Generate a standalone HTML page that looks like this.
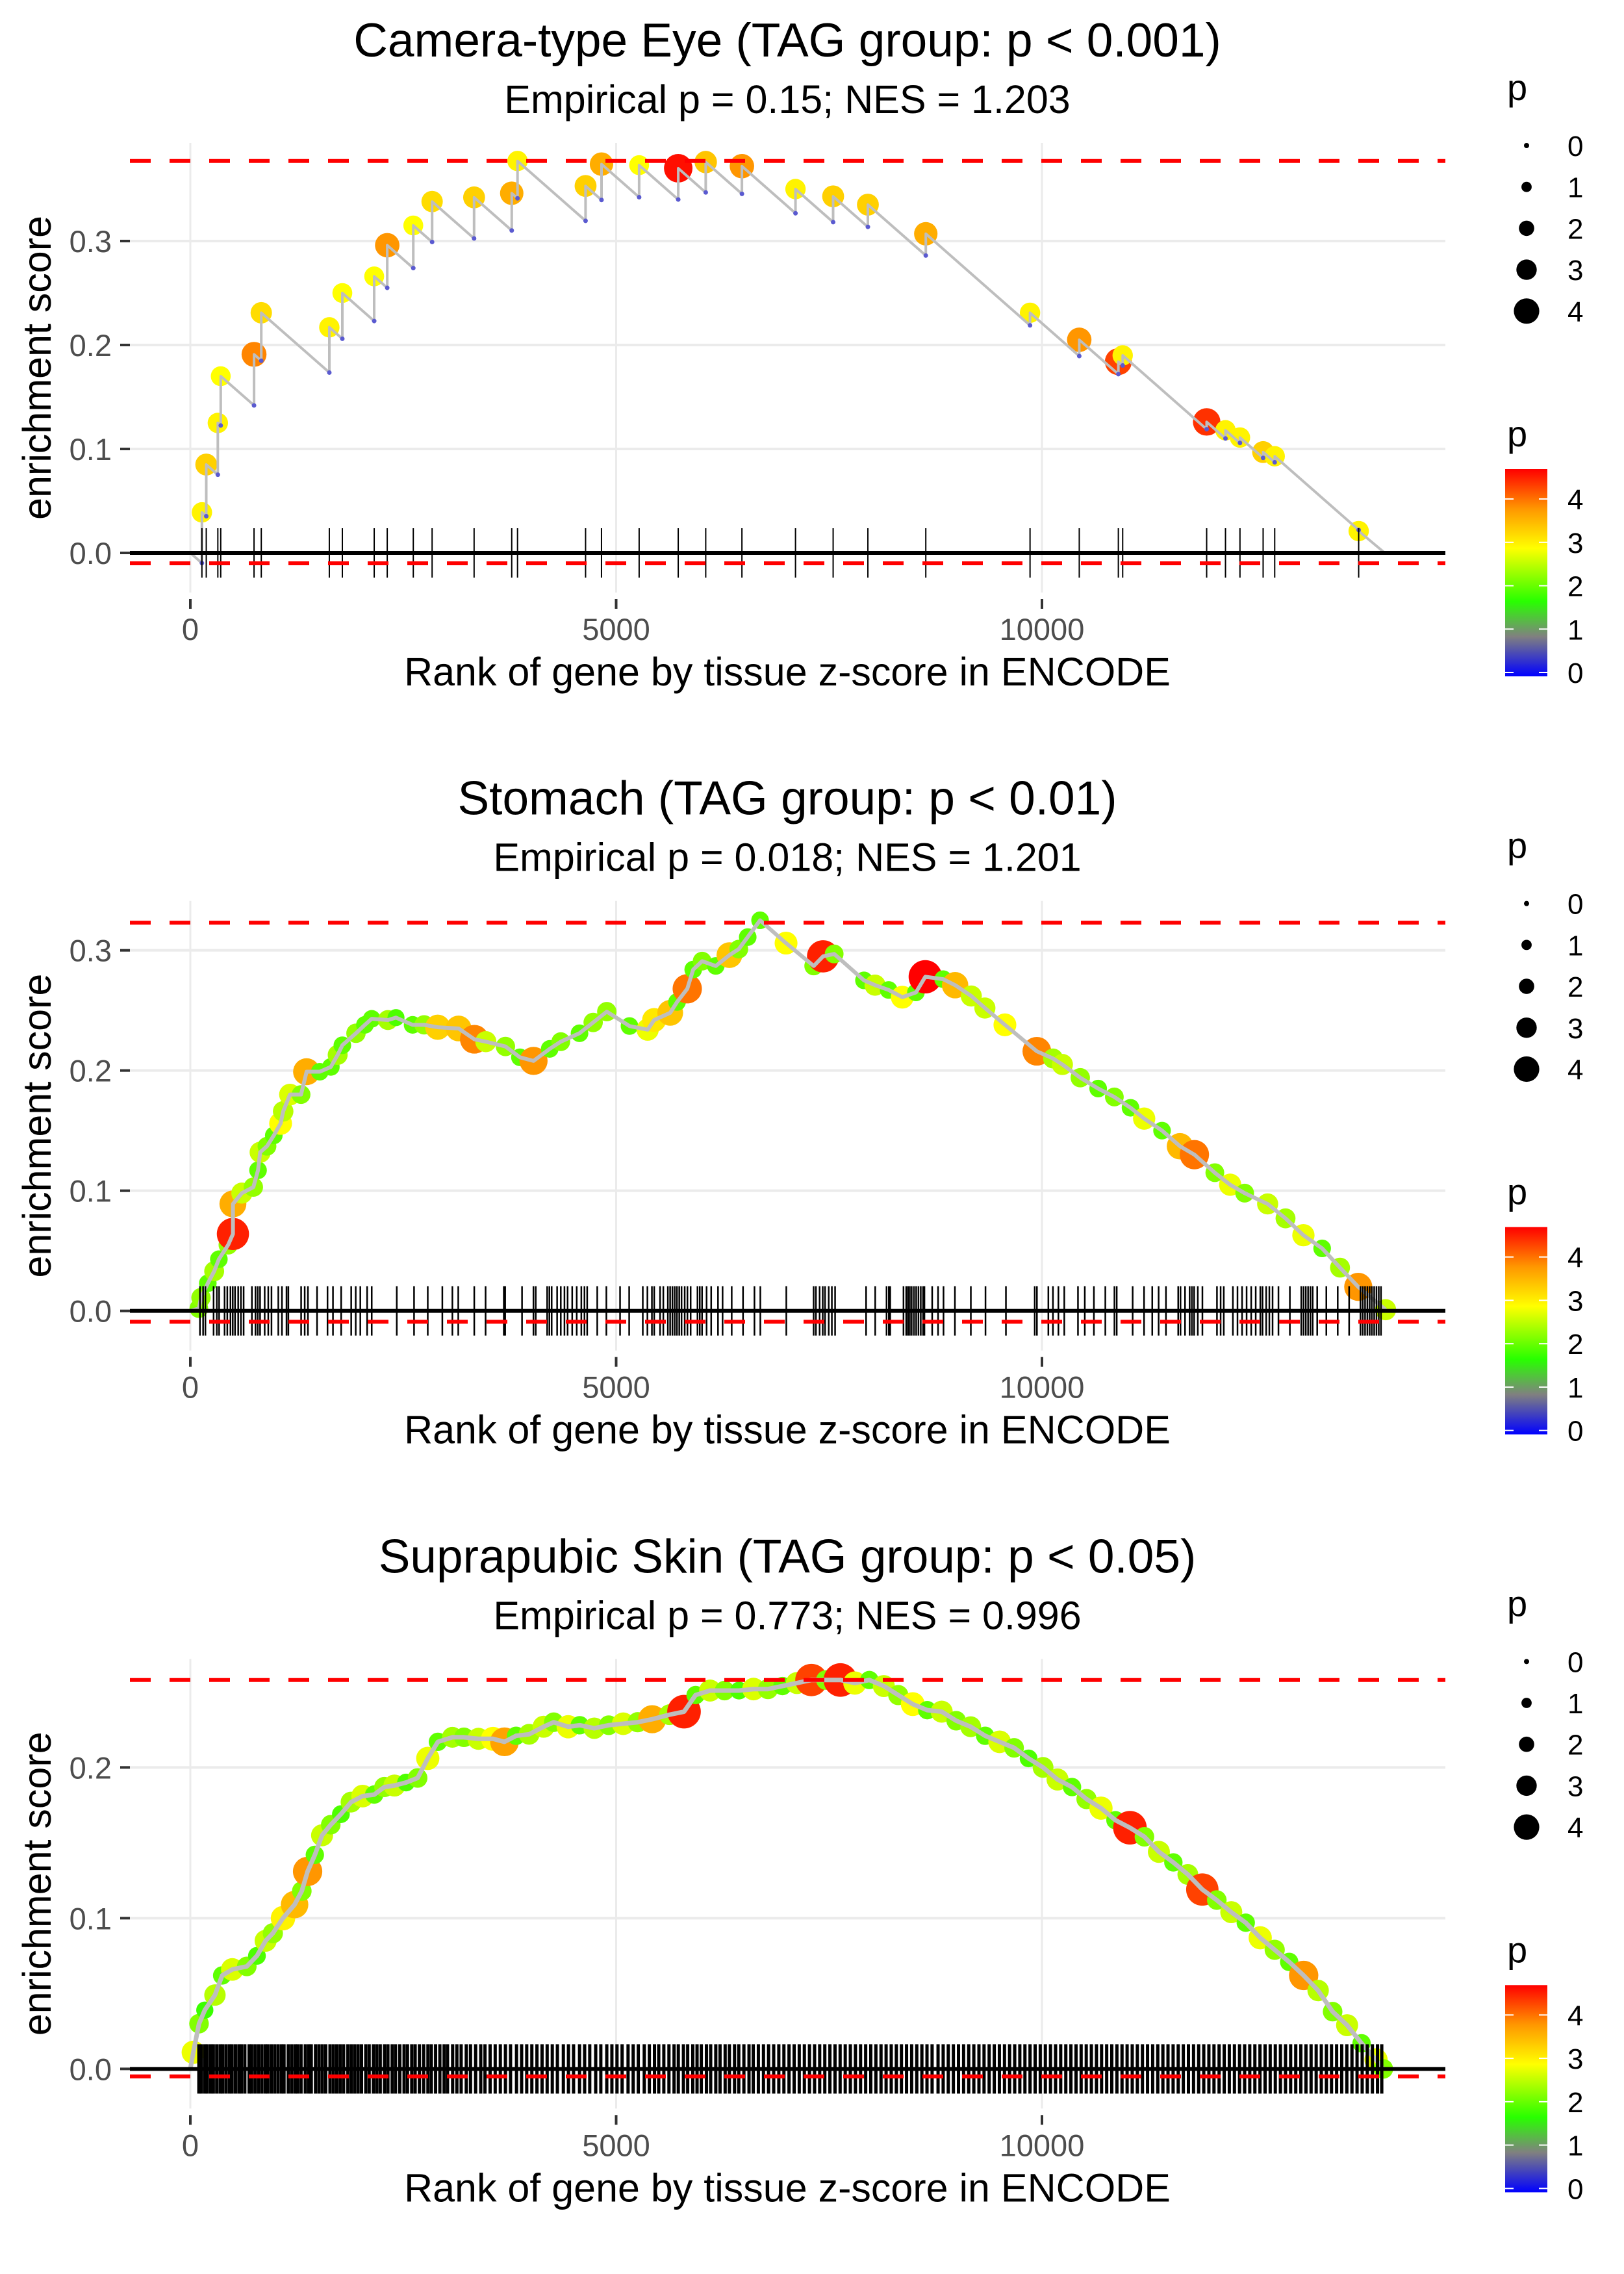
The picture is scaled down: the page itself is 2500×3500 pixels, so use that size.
<!DOCTYPE html>
<html><head><meta charset="utf-8"><title>Enrichment plots</title>
<style>html,body{margin:0;padding:0;background:#fff}svg{display:block}text{font-family:"Liberation Sans",Arial,sans-serif}</style>
</head><body>
<svg id="fig" xmlns="http://www.w3.org/2000/svg" width="2500" height="3500" viewBox="0 0 2500 3500">
<defs>
<linearGradient id="pgrad" x1="0" y1="1" x2="0" y2="0"></linearGradient>
</defs>
</svg>
<script>
// ---------- data ----------
const xTicks = [0, 5000, 10000];
const xTickLabels = ["0", "5000", "10000"];
const yTicks1 = [0, 0.1, 0.2, 0.3];
const yTicks2 = [0, 0.1, 0.2, 0.3];
const yTicks3 = [0, 0.1, 0.2];
const yTickLabels1 = ["0.0", "0.1", "0.2", "0.3"];
const yTickLabels2 = ["0.0", "0.1", "0.2", "0.3"];
const yTickLabels3 = ["0.0", "0.1", "0.2"];
const sizeLegendVals = [0, 1, 2, 3, 4];
const colorLegendVals = [0, 1, 2, 3, 4];
const pMax = 4.69;

const titles = ["Camera-type Eye (TAG group: p < 0.001)", "Stomach (TAG group: p < 0.01)", "Suprapubic Skin (TAG group: p < 0.05)"];
const subtitles = ["Empirical p = 0.15; NES = 1.203", "Empirical p = 0.018; NES = 1.201", "Empirical p = 0.773; NES = 0.996"];

// Panel 1: hits (rank, ES after hit, p)
const p1Rank = [136,187,323,357,748,833,1632,1785,2159,2312,2618,2839,3332,3774,3842,4641,4828,5270,5729,6052,6477,7106,7548,7956,8636,9860,10438,10897,10948,11934,12155,12325,12597,12733,13719];
const p1ES = [0.039,0.085,0.125,0.170,0.191,0.231,0.217,0.250,0.266,0.296,0.315,0.338,0.342,0.346,0.377,0.353,0.374,0.373,0.370,0.376,0.372,0.350,0.343,0.335,0.307,0.231,0.205,0.184,0.190,0.126,0.118,0.111,0.097,0.093,0.021];
const p1P = [3.0,3.3,3.0,2.9,3.9,3.2,3.0,2.9,2.9,3.8,2.9,3.2,3.3,3.6,3.0,3.3,3.6,2.9,4.6,3.4,3.8,3.0,3.3,3.3,3.6,3.0,3.8,4.3,3.0,4.4,3.0,3.0,3.3,3.0,3.0];
const p1Decay = 0.000072;
const p1End = 14025;
const p1Dash = [0.377, -0.010];

// Panel 2
const p2Rank = [100,125,205,280,335,445,500,500,605,740,795,820,900,980,1060,1090,1170,1300,1365,1520,1650,1730,1785,1945,2050,2130,2320,2415,2610,2745,2905,3150,3335,3470,3700,3870,4030,4220,4350,4570,4730,4890,5157,5370,5446,5635,5715,5835,5905,6010,6170,6330,6440,6545,6690,6995,7320,7430,7560,7910,8040,8200,8360,8520,8630,8840,8980,9170,9330,9565,9940,10130,10240,10450,10660,10850,11040,11200,11410,11620,11790,12030,12210,12380,12650,12860,13070,13290,13500,13714,14035];
const p2ES = [0.002,0.011,0.023,0.033,0.043,0.055,0.064,0.089,0.098,0.103,0.117,0.132,0.137,0.146,0.156,0.166,0.180,0.180,0.199,0.199,0.203,0.213,0.221,0.231,0.238,0.243,0.242,0.244,0.238,0.238,0.236,0.235,0.226,0.224,0.220,0.211,0.208,0.218,0.224,0.231,0.240,0.249,0.237,0.234,0.242,0.248,0.257,0.268,0.284,0.291,0.287,0.296,0.301,0.311,0.325,0.306,0.287,0.295,0.297,0.275,0.271,0.267,0.261,0.265,0.278,0.276,0.271,0.262,0.252,0.238,0.216,0.210,0.205,0.194,0.185,0.178,0.169,0.160,0.150,0.137,0.130,0.115,0.105,0.098,0.089,0.077,0.063,0.052,0.036,0.020,0.001];
const p2P = [2.2,2.3,2.0,2.4,2.0,2.3,4.5,3.6,2.6,2.3,2.0,2.6,2.2,2.0,2.9,2.5,2.7,2.2,3.6,2.0,2.0,2.4,2.0,2.3,2.0,2.0,2.4,1.9,2.0,2.3,3.3,3.4,3.9,2.6,2.3,2.0,3.8,2.0,2.2,2.0,2.3,2.3,2.0,2.8,3.1,3.4,2.0,4.0,2.0,2.2,2.0,3.4,2.2,2.0,2.0,2.9,2.2,4.5,2.2,2.0,2.6,2.0,2.9,2.0,4.7,2.0,3.5,2.6,2.6,2.9,3.9,2.4,2.6,2.3,2.0,2.2,2.0,2.8,2.0,3.5,4.0,2.2,2.8,2.2,2.6,2.4,2.8,2.0,2.4,3.8,2.6];
const p2Rug = [113,150,177,273,311,338,402,434,471,498,525,562,594,626,723,765,792,819,873,915,953,1033,1076,1129,1151,1301,1343,1381,1488,1611,1675,1771,1889,1942,1996,2076,2130,2424,2627,2788,2959,3077,3146,3334,3467,3681,3697,3895,4029,4056,4190,4216,4243,4307,4350,4393,4430,4484,4537,4591,4628,4660,4778,4885,5046,5153,5313,5367,5420,5447,5516,5554,5607,5634,5661,5688,5714,5741,5768,5805,5837,5875,5955,5982,6009,6062,6116,6196,6250,6357,6490,6624,6693,6998,7319,7346,7389,7426,7453,7496,7533,7571,7935,8042,8175,8202,8218,8374,8406,8427,8448,8470,8497,8523,8550,8577,8604,8620,8711,8780,8844,8978,9165,9337,9577,9915,9941,10075,10129,10193,10262,10423,10503,10610,10744,10851,10878,11065,11199,11295,11370,11456,11600,11627,11680,11734,11761,11787,11830,11884,12055,12098,12135,12242,12296,12350,12403,12457,12510,12564,12590,12633,12670,12708,12777,12911,13045,13072,13098,13125,13152,13179,13232,13339,13473,13607,13740,13767,13794,13821,13848,13874,13901,13928,13955,13981];
const p2Dash = [0.323, -0.009];

// Panel 3
const p3Rank = [34,102,170,289,374,493,663,782,884,969,1088,1224,1309,1377,1462,1547,1649,1768,1887,2023,2159,2278,2397,2533,2669,2788,2907,3077,3213,3383,3553,3689,3825,3978,4148,4267,4437,4573,4743,4913,5083,5253,5423,5627,5797,5933,6103,6273,6443,6613,6783,6953,7123,7293,7463,7633,7803,7973,8143,8313,8483,8653,8823,8993,9163,9333,9503,9673,9843,10013,10183,10353,10523,10693,10863,11033,11203,11373,11543,11713,11883,12053,12223,12393,12563,12733,12903,13073,13243,13413,13583,13753,13923,14008];
const p3ES = [0.011,0.030,0.039,0.049,0.062,0.066,0.068,0.075,0.085,0.090,0.100,0.109,0.118,0.131,0.142,0.155,0.162,0.169,0.177,0.181,0.182,0.187,0.188,0.190,0.193,0.206,0.217,0.220,0.220,0.219,0.219,0.217,0.221,0.222,0.227,0.230,0.227,0.228,0.226,0.228,0.229,0.230,0.232,0.235,0.237,0.248,0.251,0.251,0.251,0.252,0.252,0.254,0.256,0.258,0.258,0.258,0.256,0.258,0.254,0.248,0.242,0.238,0.237,0.231,0.227,0.221,0.217,0.213,0.206,0.200,0.192,0.187,0.179,0.173,0.165,0.160,0.154,0.144,0.137,0.129,0.119,0.112,0.104,0.097,0.087,0.079,0.071,0.062,0.052,0.038,0.029,0.017,0.006,0.000];
const p3P = [2.8,2.2,1.8,2.5,2.0,2.7,2.2,1.9,2.6,2.3,3.0,3.5,2.2,3.8,2.0,2.6,2.2,1.9,2.4,2.7,2.0,2.3,2.6,1.9,2.2,2.8,2.0,2.4,2.2,2.6,2.9,3.7,2.0,2.4,2.6,2.2,2.8,2.0,2.5,2.2,2.7,2.3,3.6,2.4,4.5,2.0,2.6,2.2,1.9,2.7,2.3,2.0,2.6,4.3,2.2,4.5,2.8,2.0,2.6,2.3,2.9,2.0,2.6,2.2,2.4,2.0,2.7,2.2,1.9,2.4,2.6,2.0,2.3,2.8,2.0,4.5,2.2,2.6,2.0,2.4,4.3,2.2,2.6,2.0,2.8,2.3,2.0,3.8,2.5,2.2,2.6,2.0,2.8,2.2];
const p3Rug = [100,130,170,200,240,270,310,350,380,420,460,490,530,570,600,640,690,720,760,800,840,880,910,950,990,1030,1070,1100,1150,1190,1230,1260,1300,1350,1390,1420,1470,1510,1550,1590,1640,1680,1720,1760,1800,1850,1890,1930,1970,2010,2060,2100,2150,2190,2230,2280,2320,2370,2410,2460,2510,2550,2600,2640,2690,2740,2790,2830,2880,2930,2980,3020,3080,3130,3180,3240,3290,3350,3410,3460,3520,3580,3640,3700,3760,3830,3890,3950,4010,4070,4130,4190,4250,4310,4380,4440,4500,4570,4630,4690,4760,4820,4890,4950,5010,5070,5140,5200,5260,5330,5390,5450,5500,5560,5620,5680,5730,5790,5840,5900,5950,6000,6060,6110,6170,6220,6280,6330,6390,6440,6500,6560,6610,6670,6730,6790,6850,6910,6970,7030,7090,7150,7210,7270,7330,7390,7450,7510,7570,7630,7690,7750,7810,7870,7930,7990,8050,8110,8170,8230,8290,8350,8410,8470,8530,8590,8650,8710,8780,8840,8900,8960,9020,9080,9140,9200,9260,9320,9380,9440,9500,9560,9620,9680,9740,9800,9860,9920,9980,10040,10100,10160,10220,10280,10340,10400,10460,10520,10580,10640,10700,10760,10820,10880,10940,11000,11060,11120,11180,11240,11300,11360,11420,11480,11540,11600,11660,11720,11780,11840,11900,11960,12020,12080,12140,12200,12260,12320,12380,12440,12500,12560,12620,12680,12740,12800,12860,12920,12980,13040,13100,13160,13220,13280,13340,13400,13460,13520,13580,13640,13700,13760,13820,13880,13940,13990];
const p3Dash = [0.258, -0.005];

// ---------- layout ----------
const svg = document.getElementById('fig');
const NS = 'http://www.w3.org/2000/svg';
const PANEL_H = 3500 / 3;
const PLOT_L = 200, PLOT_R = 2225, PLOT_T = 220, PLOT_B = 912, ZERO = 851;
function xScale(r) { return 293 + r * 0.1311; }
function mk(parent, tag, attrs, name) {
  const el = document.createElementNS(NS, tag);
  for (const k in attrs) el.setAttribute(k, attrs[k]);
  
  
  parent.appendChild(el);
  return el;
}
const stops = [[0,[0,0,255]],[0.9,[128,128,128]],[1.7,[40,255,0]],[2.9,[255,255,0]],[3.8,[255,150,0]],[4.69,[255,0,0]]];
function pColor(p) {
  if (p <= stops[0][0]) return 'rgb(0,0,255)';
  for (let i = 1; i < stops.length; i++) {
    if (p <= stops[i][0]) {
      const a = stops[i-1], b = stops[i], t = (p - a[0]) / (b[0] - a[0]);
      const c = a[1].map((v, j) => Math.round(v + (b[1][j] - v) * t));
      return 'rgb(' + c.join(',') + ')';
    }
  }
  return 'rgb(255,0,0)';
}
function pRadius(p) { return 4 + 3.9 * p; }

const grad = document.getElementById('pgrad');
stops.forEach(s => {
  const st = document.createElementNS(NS, 'stop');
  st.setAttribute('offset', (s[0] / pMax).toFixed(3));
  st.setAttribute('stop-color', 'rgb(' + s[1].join(',') + ')');
  grad.appendChild(st);
});

function text(parent, x, y, str, size, fill, anchor, name, extra) {
  const t = mk(parent, 'text', Object.assign({x: x, y: y, 'font-size': size, fill: fill, 'text-anchor': anchor}, extra || {}), name);
  t.textContent = str;
  return t;
}

function drawPanel(i, cfg) {
  const oy = i * PANEL_H;
  const g = mk(svg, 'g', {transform: 'translate(0,' + oy.toFixed(2) + ')'}, 'panel-' + (i + 1));
  const yS = v => ZERO - v * cfg.unit;
  text(g, 1212, 87, titles[i], 73, '#000', 'middle', 'plot-title');
  text(g, 1212, 174, subtitles[i], 61, '#000', 'middle', 'plot-subtitle');
  // grid
  const grid = mk(g, 'g', {}, 'gridlines');
  xTicks.forEach(v => { mk(grid, 'line', {x1: xScale(v), x2: xScale(v), y1: PLOT_T, y2: PLOT_B, stroke: '#ebebeb', 'stroke-width': 3}, 'x-gridline'); });
  cfg.yTicks.forEach(v => { mk(grid, 'line', {x1: PLOT_L, x2: PLOT_R, y1: yS(v), y2: yS(v), stroke: '#ebebeb', 'stroke-width': 4}, 'y-gridline'); });
  // axes ticks + labels
  const ya = mk(g, 'g', {}, 'y-axis');
  cfg.yTicks.forEach((v, k) => {
    mk(ya, 'line', {x1: 185, x2: 200, y1: yS(v), y2: yS(v), stroke: '#333', 'stroke-width': 4}, 'y-tick');
    text(ya, 172, yS(v) + 17, cfg.yLabels[k], 47, '#4d4d4d', 'end', 'y-tick-label');
  });
  const xa = mk(g, 'g', {}, 'x-axis');
  xTicks.forEach((v, k) => {
    mk(xa, 'line', {x1: xScale(v), x2: xScale(v), y1: 922, y2: 937, stroke: '#333', 'stroke-width': 4}, 'x-tick');
    text(xa, xScale(v), 985, xTickLabels[k], 47, '#4d4d4d', 'middle', 'x-tick-label');
  });
  text(g, 1212, 1055, 'Rank of gene by tissue z-score in ENCODE', 61, '#000', 'middle', 'x-axis-title');
  text(g, 0, 0, 'enrichment score', 61, '#000', 'middle', 'y-axis-title', {transform: 'translate(78,566) rotate(-90)'});
  // dots
  const dots = mk(g, 'g', {}, 'points');
  cfg.rank.forEach((r, k) => {
    mk(dots, 'circle', {cx: xScale(r), cy: yS(cfg.es[k]), r: pRadius(cfg.p[k]) * cfg.rMul, fill: pColor(cfg.p[k])}, 'gene-point');
  });
  // line
  mk(g, 'polyline', {points: cfg.line.map(q => xScale(q[0]).toFixed(1) + ',' + yS(q[1]).toFixed(1)).join(' '), fill: 'none', stroke: '#bebebe', 'stroke-width': cfg.lineW, 'stroke-linejoin': 'round'}, 'running-es-line');
  if (cfg.lows) {
    const lg = mk(g, 'g', {}, 'low-points');
    cfg.lows.forEach(q => { mk(lg, 'circle', {cx: xScale(q[0]), cy: yS(q[1]), r: 3.5, fill: '#5a5ad0'}, 'low-point'); });
  }
  // rug
  const rg = mk(g, 'g', {}, 'rug');
  cfg.rug.forEach(r => { mk(rg, 'line', {x1: xScale(r), x2: xScale(r), y1: ZERO - 38, y2: ZERO + 38, stroke: '#000', 'stroke-width': cfg.rugW}, 'rug-tick'); });
  mk(g, 'line', {x1: PLOT_L, x2: PLOT_R, y1: ZERO, y2: ZERO, stroke: '#000', 'stroke-width': 6}, 'zero-line');
  cfg.dash.forEach((v, k) => {
    mk(g, 'line', {x1: PLOT_L, x2: PLOT_R, y1: yS(v), y2: yS(v), stroke: '#ff0000', 'stroke-width': 6, 'stroke-dasharray': '32 29'}, k === 0 ? 'max-es-dashed-line' : 'min-es-dashed-line');
  });
  // size legend
  const sl = mk(g, 'g', {}, 'size-legend');
  text(sl, 2320, 154, 'p', 56, '#000', 'start', 'size-legend-title');
  sizeLegendVals.forEach((v, k) => {
    const cy = 224 + k * 63.7;
    mk(sl, 'circle', {cx: 2350, cy: cy, r: pRadius(v), fill: '#000'}, 'size-legend-dot');
    text(sl, 2413, cy + 16, String(v), 44, '#000', 'start', 'size-legend-label');
  });
  // color legend
  const cl = mk(g, 'g', {}, 'color-legend');
  text(cl, 2320, 687, 'p', 56, '#000', 'start', 'color-legend-title');
  const barTop = 722, bar0 = 1041;
  mk(cl, 'rect', {x: 2317, y: barTop, width: 65, height: bar0 - barTop, fill: 'url(#pgrad)'}, 'colorbar');
  colorLegendVals.forEach(v => {
    const yy = bar0 - 6 - v * (bar0 - 6 - 768) / 4;
    mk(cl, 'line', {x1: 2317, x2: 2330, y1: yy, y2: yy, stroke: '#fff', 'stroke-width': 2}, 'colorbar-tick');
    mk(cl, 'line', {x1: 2369, x2: 2382, y1: yy, y2: yy, stroke: '#fff', 'stroke-width': 2}, 'colorbar-tick');
    text(cl, 2413, yy + 16, String(v), 44, '#000', 'start', 'color-legend-label');
  });
}

// panel 1 stair line
const p1Line = [[0, 0]];
const p1Lows = [];
let prevR = 0, prevE = 0;
p1Rank.forEach((r, k) => {
  const low = prevE - p1Decay * (r - prevR);
  p1Line.push([r, low]); p1Lows.push([r, low]);
  p1Line.push([r, p1ES[k]]);
  prevR = r; prevE = p1ES[k];
});
p1Line.push([p1End, 0]);

drawPanel(0, {unit: 1600, yTicks: yTicks1, yLabels: yTickLabels1, rank: p1Rank, es: p1ES, p: p1P, line: p1Line, lows: p1Lows, rug: p1Rank, rugW: 2, dash: p1Dash, rMul: 1, lineW: 4});
drawPanel(1, {unit: 1850, yTicks: yTicks2, yLabels: yTickLabels2, rank: p2Rank, es: p2ES, p: p2P, line: [[0,0]].concat(p2Rank.map((r,k)=>[r,p2ES[k]])), rug: p2Rug, rugW: 2.5, dash: p2Dash, rMul: 1.15, lineW: 6});
drawPanel(2, {unit: 2320, yTicks: yTicks3, yLabels: yTickLabels3, rank: p3Rank, es: p3ES, p: p3P, line: [[0,0]].concat(p3Rank.map((r,k)=>[r,p3ES[k]])), rug: p3Rug, rugW: 5, dash: p3Dash, rMul: 1.2, lineW: 7});
</script>
</body></html>
